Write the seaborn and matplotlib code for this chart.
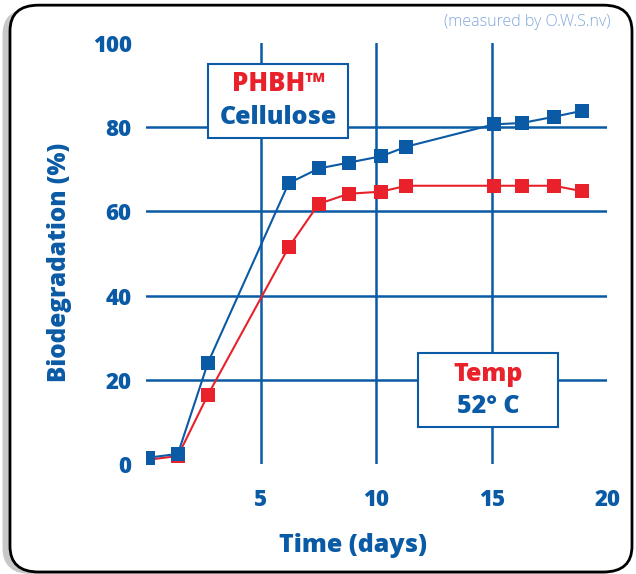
import pandas as pd
import numpy as np
import matplotlib.pyplot as plt
import seaborn as sns
from matplotlib.patches import FancyBboxPatch, Rectangle

# Values
days = [0.1, 1.4, 2.7, 6.2, 7.5, 8.8, 10.2, 11.3, 15.1, 16.3, 17.7, 18.9]
phbh = [1.0, 1.9, 16.4, 51.5, 61.8, 64.2, 64.7, 66.1, 66.1, 66.1, 66.1, 64.8]
cellulose = [1.5, 2.4, 24.0, 66.7, 70.2, 71.6, 73.1, 75.4, 80.7, 81.0, 82.5, 83.9]
x_ticks = [5, 10, 15, 20]
y_ticks = [0, 20, 40, 60, 80, 100]

BLUE = '#0a5aa5'
RED = '#e8212b'
W = 'heavy'

df = pd.DataFrame({
    'day': days * 2,
    'value': phbh + cellulose,
    'material': ['PHBH'] * len(days) + ['Cellulose'] * len(days),
})

sns.set_style('white')
plt.rcParams['font.family'] = ['Open Sans', 'DejaVu Sans']

fig = plt.figure(figsize=(6.36, 5.74), dpi=100)

# rounded frame with a light shadow
shadow = FancyBboxPatch((0.004, 0.0), 0.985, 0.985, boxstyle='round,pad=0,rounding_size=0.045',
                        transform=fig.transFigure, facecolor='#c8c8c8', edgecolor='none',
                        zorder=0)
frame = FancyBboxPatch((0.0157, 0.0035), 0.978, 0.9875, boxstyle='round,pad=0,rounding_size=0.045',
                       transform=fig.transFigure, facecolor='white', edgecolor='black',
                       linewidth=2, zorder=1)
fig.patches.extend([shadow, frame])

ax = fig.add_axes([0.2288, 0.1916, 0.7262, 0.7334])
ax.set_zorder(5)
ax.set_facecolor('none')

sns.lineplot(data=df, x='day', y='value', hue='material', hue_order=['PHBH', 'Cellulose'],
             palette={'PHBH': RED, 'Cellulose': BLUE}, marker='s', markersize=9.5,
             markeredgewidth=0, linewidth=1.5, legend=False, ax=ax, zorder=4)

ax.set_xlim(0, 20)
ax.set_ylim(0, 100)
ax.set_xticks(x_ticks)
ax.set_yticks(y_ticks)
for s in ax.spines.values():
    s.set_visible(False)

ax.grid(True, color=BLUE, linewidth=1.8)
for i, gl in enumerate(ax.yaxis.get_gridlines()):
    if y_ticks[i] in (0, 100):
        gl.set_visible(False)
for i, gl in enumerate(ax.xaxis.get_gridlines()):
    if x_ticks[i] == 20:
        gl.set_visible(False)
ax.set_axisbelow(True)

ax.tick_params(axis='both', length=0, labelsize=16, labelcolor=BLUE)
ax.tick_params(axis='x', pad=17)
ax.tick_params(axis='y', pad=10)
for lab in ax.get_xticklabels() + ax.get_yticklabels():
    lab.set_fontweight(W)

ax.set_xlabel('Time (days)', fontsize=18, fontweight=W, color=BLUE)
ax.xaxis.set_label_coords(0.449, -0.165)
ax.set_ylabel('Biodegradation (%)', fontsize=17.5, fontweight=W, color=BLUE)
ax.yaxis.set_label_coords(-0.16, 0.48)

# label boxes
box1 = Rectangle((0.135, 0.774), 0.304, 0.176, transform=ax.transAxes, facecolor='white',
                 edgecolor=BLUE, linewidth=1.5, zorder=3, clip_on=False)
box2 = Rectangle((0.589, 0.088), 0.305, 0.176, transform=ax.transAxes, facecolor='white',
                 edgecolor=BLUE, linewidth=1.5, zorder=3, clip_on=False)
ax.add_patch(box1)
ax.add_patch(box2)
ax.text(0.287, 0.903, 'PHBH™', transform=ax.transAxes, ha='center', va='center',
        fontsize=18.5, fontweight=W, color=RED, zorder=5)
ax.text(0.287, 0.822, 'Cellulose', transform=ax.transAxes, ha='center', va='center',
        fontsize=18, fontweight=W, color=BLUE, zorder=5)
ax.text(0.741, 0.212, 'Temp', transform=ax.transAxes, ha='center', va='center',
        fontsize=18, fontweight=W, color=RED, zorder=5)
ax.text(0.741, 0.137, '52° C', transform=ax.transAxes, ha='center', va='center',
        fontsize=18, fontweight=W, color=BLUE, zorder=5)

fig.text(0.96, 0.962, '(measured by O.W.S.nv)', ha='right', va='center', fontsize=11.5,
         color='#80a8dc', fontweight='light')

fig.savefig('out.png', dpi=100)
plt.close(fig)
